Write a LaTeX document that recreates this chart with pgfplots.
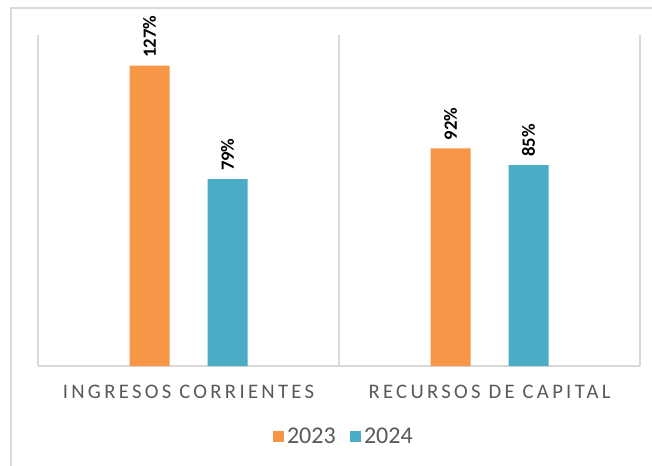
\documentclass[border=0pt]{standalone}
\usepackage{fontspec}
\setmainfont{Carlito}
\usepackage{pgfplots}
\pgfplotsset{compat=1.18}
\definecolor{c23}{HTML}{F79646}
\definecolor{c24}{HTML}{4BACC6}
\definecolor{gridgray}{HTML}{D9D9D9}
\definecolor{labgray}{HTML}{595959}
\begin{document}
\begin{tikzpicture}
\useasboundingbox[fill=white] (-28.5pt,-74.25pt) rectangle (460.5pt,274.5pt);
\draw[gridgray, line width=2pt] (-20.25pt,-80pt) -- (-20.25pt,268.5pt) -- (470pt,268.5pt);
\begin{axis}[
  at={(0,0)}, anchor=south west,
  scale only axis,
  width=451.5pt, height=248.25pt,
  xmin=-0.5, xmax=1.5, ymin=0, ymax=140,
  /pgf/number format/assume math mode=true,
  axis y line=none,
  axis x line*=bottom,
  x axis line style={draw=gridgray, line width=1.5pt},
  xtick={0,1},
  xticklabels={INGRESOS CORRIENTES, RECURSOS DE CAPITAL},
  minor xtick={-0.5,0.5,1.5},
  xminorgrids,
  minor grid style={draw=gridgray, line width=1.5pt},
  major tick length=0pt, minor tick length=0pt,
  xticklabel style={font=\fontsize{15.5}{17}\selectfont\addfontfeatures{LetterSpace=16}, text=labgray, yshift=-11pt},
  ybar, bar width=30pt,
  nodes near coords={\pgfmathprintnumber{\pgfplotspointmeta}\%},
  nodes near coords style={rotate=90, anchor=west, inner xsep=6pt, inner ysep=0pt, font=\fontsize{14}{16}\selectfont\bfseries, text=black},
  legend style={at={(0.5,0)}, anchor=center, yshift=-53pt, xshift=4pt, draw=none, fill=none, legend columns=2,
    font=\fontsize{18}{20}\selectfont, text=labgray,
    /tikz/every even column/.append style={column sep=9pt}},
  legend image code/.code={\fill[#1] (0pt,-4.1pt) rectangle (8.25pt,4.15pt);},
]
\addplot[fill=c23, draw=none, bar shift=-29.25pt] coordinates {(0,127) (1,92)};
\addplot[fill=c24, draw=none, bar shift=29.25pt] coordinates {(0,79) (1,85)};
\legend{2023, 2024}
\end{axis}
\end{tikzpicture}
\end{document}
